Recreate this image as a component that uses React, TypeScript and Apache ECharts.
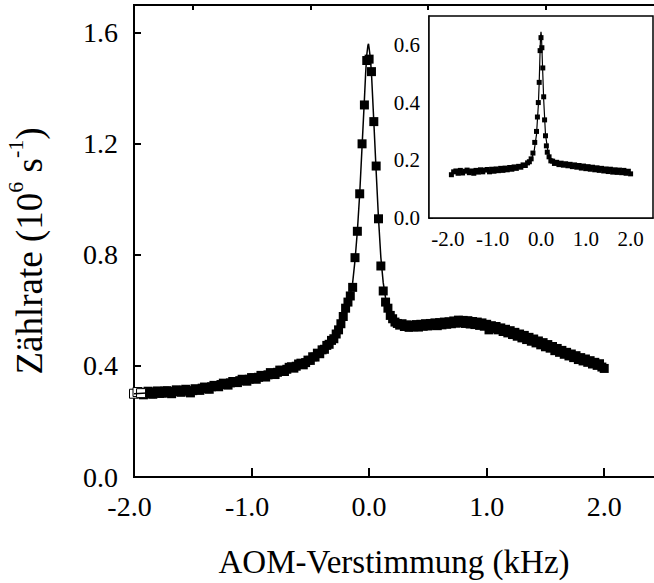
import React, { useEffect, useRef } from "react";
import * as echarts from "echarts";

const FONT = '"Liberation Serif", "Times New Roman", Times, serif';

// Main plot: measured count rate vs AOM detuning (filled squares)
const mainData: [number, number][] = [
  [-1.92, 0.296], [-1.90, 0.305], [-1.88, 0.309], [-1.86, 0.300], [-1.84, 0.298],
  [-1.82, 0.306], [-1.80, 0.310], [-1.78, 0.301], [-1.76, 0.302], [-1.74, 0.309],
  [-1.72, 0.311], [-1.70, 0.303], [-1.68, 0.300], [-1.66, 0.308], [-1.64, 0.314],
  [-1.62, 0.309], [-1.60, 0.305], [-1.58, 0.312], [-1.56, 0.316], [-1.54, 0.309],
  [-1.52, 0.303], [-1.50, 0.311], [-1.48, 0.318], [-1.46, 0.314], [-1.44, 0.312],
  [-1.42, 0.320], [-1.40, 0.324], [-1.38, 0.318], [-1.36, 0.316], [-1.34, 0.325],
  [-1.32, 0.330], [-1.30, 0.327], [-1.28, 0.325], [-1.26, 0.333], [-1.24, 0.338],
  [-1.22, 0.333], [-1.20, 0.331], [-1.18, 0.339], [-1.16, 0.344], [-1.14, 0.342],
  [-1.12, 0.340], [-1.10, 0.347], [-1.08, 0.352], [-1.06, 0.348], [-1.04, 0.345],
  [-1.02, 0.352], [-1.00, 0.358], [-0.98, 0.357], [-0.96, 0.352], [-0.94, 0.359],
  [-0.92, 0.366], [-0.90, 0.364], [-0.88, 0.360], [-0.86, 0.368], [-0.84, 0.376],
  [-0.82, 0.373], [-0.80, 0.369], [-0.78, 0.377], [-0.76, 0.385], [-0.74, 0.384],
  [-0.72, 0.380], [-0.70, 0.388], [-0.68, 0.395], [-0.66, 0.397], [-0.64, 0.392],
  [-0.62, 0.399], [-0.60, 0.407], [-0.58, 0.410], [-0.56, 0.404], [-0.54, 0.412],
  [-0.52, 0.421], [-0.50, 0.420], [-0.48, 0.433], [-0.46, 0.432], [-0.44, 0.446],
  [-0.42, 0.444], [-0.40, 0.458], [-0.38, 0.460], [-0.36, 0.474], [-0.34, 0.478],
  [-0.32, 0.492], [-0.30, 0.498], [-0.28, 0.515], [-0.26, 0.530], [-0.24, 0.552],
  [-0.22, 0.578], [-0.20, 0.608], [-0.18, 0.630], [-0.16, 0.652], [-0.14, 0.683],
  [-0.12, 0.790], [-0.10, 0.885], [-0.08, 1.020], [-0.06, 1.200], [-0.04, 1.340],
  [-0.02, 1.500], [0.00, 1.505], [0.02, 1.460], [0.04, 1.280], [0.06, 1.120],
  [0.08, 0.930], [0.10, 0.760], [0.12, 0.670], [0.14, 0.630], [0.16, 0.608],
  [0.18, 0.582], [0.20, 0.570], [0.22, 0.558], [0.24, 0.553], [0.26, 0.547],
  [0.28, 0.552], [0.30, 0.542], [0.32, 0.548], [0.34, 0.539], [0.36, 0.546],
  [0.38, 0.541], [0.40, 0.549], [0.42, 0.540], [0.44, 0.550], [0.46, 0.543],
  [0.48, 0.552], [0.50, 0.544], [0.52, 0.553], [0.54, 0.546], [0.56, 0.555],
  [0.58, 0.545], [0.60, 0.556], [0.62, 0.548], [0.64, 0.558], [0.66, 0.550],
  [0.68, 0.559], [0.70, 0.552], [0.72, 0.562], [0.74, 0.554], [0.76, 0.565],
  [0.78, 0.556], [0.80, 0.564], [0.82, 0.553], [0.84, 0.563], [0.86, 0.551],
  [0.88, 0.560], [0.90, 0.549], [0.92, 0.558], [0.94, 0.546], [0.96, 0.555],
  [0.98, 0.543], [1.00, 0.550], [1.02, 0.530], [1.04, 0.545], [1.06, 0.535],
  [1.08, 0.542], [1.10, 0.530], [1.12, 0.537], [1.14, 0.524], [1.16, 0.532],
  [1.18, 0.519], [1.20, 0.527], [1.22, 0.513], [1.24, 0.521], [1.26, 0.507],
  [1.28, 0.515], [1.30, 0.501], [1.32, 0.510], [1.34, 0.495], [1.36, 0.503],
  [1.38, 0.489], [1.40, 0.497], [1.42, 0.483], [1.44, 0.490], [1.46, 0.476],
  [1.48, 0.484], [1.50, 0.469], [1.52, 0.477], [1.54, 0.464], [1.56, 0.470],
  [1.58, 0.455], [1.60, 0.463], [1.62, 0.449], [1.64, 0.456], [1.66, 0.442],
  [1.68, 0.449], [1.70, 0.436], [1.72, 0.443], [1.74, 0.430], [1.76, 0.437],
  [1.78, 0.423], [1.80, 0.430], [1.82, 0.418], [1.84, 0.425], [1.86, 0.413],
  [1.88, 0.419], [1.90, 0.407], [1.92, 0.413], [1.94, 0.402], [1.96, 0.408],
  [1.98, 0.396], [2.00, 0.391],
];

// First points drawn as open squares
const mainOpen: [number, number][] = [
  [-2.00, 0.300], [-1.97, 0.306], [-1.94, 0.302],
];

// Fit curve of the main plot
const mainFit: [number, number][] = [
  [-2.0, 0.300], [-1.5, 0.312], [-1.0, 0.355], [-0.7, 0.388], [-0.5, 0.425],
  [-0.4, 0.455], [-0.3, 0.505], [-0.25, 0.540], [-0.20, 0.600], [-0.16, 0.655],
  [-0.14, 0.700], [-0.12, 0.780], [-0.10, 0.885], [-0.08, 1.020], [-0.06, 1.190],
  [-0.04, 1.360], [-0.03, 1.450], [-0.02, 1.520], [-0.01, 1.555], [-0.005, 1.560],
  [0.00, 1.545], [0.01, 1.510], [0.02, 1.455], [0.04, 1.280], [0.06, 1.100],
  [0.08, 0.930], [0.10, 0.790], [0.12, 0.700], [0.14, 0.645], [0.16, 0.610],
  [0.20, 0.575], [0.25, 0.555], [0.30, 0.548], [0.5, 0.546], [0.8, 0.558],
  [1.0, 0.545], [1.5, 0.474], [2.0, 0.393],
];

// Inset: measurement over the same detuning range
const insetData: [number, number][] = [
  [-2.00, 0.150], [-1.95, 0.160], [-1.90, 0.163], [-1.85, 0.155], [-1.80, 0.165],
  [-1.75, 0.156], [-1.70, 0.162], [-1.65, 0.166], [-1.60, 0.157], [-1.55, 0.163],
  [-1.50, 0.155], [-1.45, 0.165], [-1.40, 0.159], [-1.35, 0.167], [-1.30, 0.160],
  [-1.25, 0.166], [-1.20, 0.168], [-1.15, 0.160], [-1.10, 0.169], [-1.05, 0.162],
  [-1.00, 0.170], [-0.95, 0.164], [-0.90, 0.172], [-0.85, 0.165], [-0.80, 0.173],
  [-0.75, 0.167], [-0.70, 0.175], [-0.65, 0.169], [-0.60, 0.177], [-0.55, 0.172],
  [-0.50, 0.179], [-0.45, 0.176], [-0.40, 0.184], [-0.35, 0.182], [-0.30, 0.191],
  [-0.26, 0.195], [-0.22, 0.205], [-0.18, 0.225], [-0.14, 0.262], [-0.10, 0.300],
  [-0.08, 0.350], [-0.06, 0.400], [-0.04, 0.470], [-0.02, 0.580], [0.00, 0.625],
  [0.02, 0.590], [0.04, 0.520], [0.06, 0.420], [0.08, 0.340], [0.10, 0.285],
  [0.12, 0.250], [0.14, 0.228], [0.18, 0.212], [0.22, 0.198], [0.26, 0.197],
  [0.30, 0.189], [0.35, 0.193], [0.40, 0.185], [0.45, 0.190], [0.50, 0.183],
  [0.55, 0.188], [0.60, 0.181], [0.65, 0.186], [0.70, 0.178], [0.75, 0.184],
  [0.80, 0.176], [0.85, 0.182], [0.90, 0.173], [0.95, 0.180], [1.00, 0.171],
  [1.05, 0.178], [1.10, 0.169], [1.15, 0.176], [1.20, 0.167], [1.25, 0.174],
  [1.30, 0.165], [1.35, 0.172], [1.40, 0.163], [1.45, 0.170], [1.50, 0.161],
  [1.55, 0.169], [1.60, 0.159], [1.65, 0.167], [1.70, 0.158], [1.75, 0.166],
  [1.80, 0.157], [1.85, 0.165], [1.90, 0.155], [1.95, 0.162], [2.00, 0.153],
];

const insetFit: [number, number][] = [
  [-2.0, 0.155], [-1.0, 0.166], [-0.5, 0.176], [-0.3, 0.190], [-0.2, 0.210],
  [-0.15, 0.235], [-0.10, 0.290], [-0.06, 0.390], [-0.04, 0.470], [-0.02, 0.580],
  [-0.01, 0.630], [0.00, 0.645], [0.01, 0.630], [0.02, 0.590], [0.04, 0.500],
  [0.06, 0.410], [0.10, 0.290], [0.15, 0.235], [0.20, 0.210], [0.30, 0.195],
  [0.50, 0.188], [1.0, 0.176], [1.5, 0.165], [2.0, 0.156],
];

// Axis ticks / labels
const mainXMajor = [-2, -1, 0, 1, 2];
const mainXMinor = [-1.5, -0.5, 0.5, 1.5];
const mainYMajor = [0, 0.4, 0.8, 1.2, 1.6];
const mainYMinor = [0.2, 0.6, 1.0, 1.4];
const insetXTicks = [-2, -1.5, -1, -0.5, 0, 0.5, 1, 1.5, 2];
const insetXLabels = [-2, -1, 0, 1, 2];
const insetYTicks = [0, 0.1, 0.2, 0.3, 0.4, 0.5, 0.6];
const insetYLabels = [0, 0.2, 0.4, 0.6];

const xTitle = "AOM-Verstimmung (kHz)";

function negFmt(v: number) {
  const t = v.toFixed(1);
  return v < 0 ? `{n|${t}}` : t;
}

export default function App() {
  const ref = useRef<HTMLDivElement>(null);

  useEffect(() => {
    if (!ref.current) return;
    const chart = echarts.init(ref.current, undefined, { renderer: "svg" });
    const black = "#000";
    const mainLabelSize = 28;
    const insetLabelSize = 21;

    const option: any = {
      animation: false,
      backgroundColor: "#fff",
      textStyle: { fontFamily: FONT },
      grid: [
        {
          left: 134, top: 5, width: 529, height: 472,
          show: true, borderColor: black, borderWidth: 2, backgroundColor: "transparent",
          outerBoundsMode: "none",
        },
        {
          left: 429, top: 16, width: 224, height: 202,
          show: true, borderColor: black, borderWidth: 1.5, backgroundColor: "#fff",
          outerBoundsMode: "none", z: 5,
        },
      ],
      xAxis: [
        {
          type: "value", gridIndex: 0, min: -2, max: 2.5,
          axisLine: { show: true, onZero: false, lineStyle: { color: black, width: 2 } },
          axisTick: { show: true, inside: true, length: 9, lineStyle: { color: black, width: 2 }, customValues: mainXMajor },
          axisLabel: {
            customValues: mainXMajor, formatter: negFmt, margin: 15,
            fontSize: mainLabelSize, fontFamily: FONT, color: black,
            rich: { n: { fontSize: mainLabelSize, fontFamily: FONT, color: black, padding: [0, 9, 0, 0] } },
          },
          splitLine: { show: false },
        },
        {
          type: "value", gridIndex: 0, min: -2, max: 2.5,
          axisLine: { show: false, onZero: false },
          axisTick: { show: true, inside: true, length: 5, lineStyle: { color: black, width: 2 }, customValues: mainXMinor },
          axisLabel: { show: false },
          splitLine: { show: false },
        },
        {
          type: "value", gridIndex: 1, min: -2.5, max: 2.5,
          axisLine: { show: true, onZero: false, lineStyle: { color: black, width: 1.5 } },
          axisTick: { show: true, inside: true, length: 4, lineStyle: { color: black, width: 1.5 }, customValues: insetXTicks },
          axisLabel: {
            customValues: insetXLabels, formatter: negFmt, margin: 10,
            fontSize: insetLabelSize, fontFamily: FONT, color: black,
            rich: { n: { fontSize: insetLabelSize, fontFamily: FONT, color: black, padding: [0, 7, 0, 0] } },
          },
          splitLine: { show: false },
        },
      ],
      yAxis: [
        {
          type: "value", gridIndex: 0, min: 0, max: 1.7,
          axisLine: { show: true, onZero: false, lineStyle: { color: black, width: 2 } },
          axisTick: { show: true, inside: true, length: 7, lineStyle: { color: black, width: 2 }, customValues: mainYMajor },
          axisLabel: {
            customValues: mainYMajor, formatter: (v: number) => v.toFixed(1), margin: 16,
            fontSize: mainLabelSize, fontFamily: FONT, color: black,
          },
          splitLine: { show: false },
        },
        {
          type: "value", gridIndex: 0, min: 0, max: 1.7,
          axisLine: { show: false, onZero: false },
          axisTick: { show: true, inside: true, length: 4, lineStyle: { color: black, width: 2 }, customValues: mainYMinor },
          axisLabel: { show: false },
          splitLine: { show: false },
        },
        {
          type: "value", gridIndex: 1, min: 0, max: 0.7,
          axisLine: { show: true, onZero: false, lineStyle: { color: black, width: 1.5 } },
          axisTick: { show: true, inside: true, length: 4, lineStyle: { color: black, width: 1.5 }, customValues: insetYTicks },
          axisLabel: {
            customValues: insetYLabels, formatter: (v: number) => v.toFixed(1), margin: 9,
            fontSize: insetLabelSize, fontFamily: FONT, color: black,
          },
          splitLine: { show: false },
        },
      ],
      series: [
        {
          type: "scatter", xAxisIndex: 0, yAxisIndex: 0, data: mainData,
          symbol: "rect", symbolSize: 9, itemStyle: { color: black, opacity: 1 }, z: 2,
        },
        {
          type: "scatter", xAxisIndex: 0, yAxisIndex: 0, data: mainOpen,
          symbol: "rect", symbolSize: 9,
          itemStyle: { color: "#fff", borderColor: black, borderWidth: 1, opacity: 1 }, z: 3,
        },
        {
          type: "line", xAxisIndex: 0, yAxisIndex: 0, data: mainFit,
          showSymbol: false, symbol: "none", lineStyle: { color: black, width: 1.5 }, z: 4,
        },
        {
          type: "scatter", xAxisIndex: 2, yAxisIndex: 2, data: insetData,
          symbol: "rect", symbolSize: 5, itemStyle: { color: black, opacity: 1 }, z: 6,
        },
        {
          type: "line", xAxisIndex: 2, yAxisIndex: 2, data: insetFit,
          showSymbol: false, symbol: "none", lineStyle: { color: black, width: 1.2 }, z: 7,
        },
      ],
      graphic: [
        {
          type: "text", x: 26, y: 251, rotation: Math.PI / 2,
          style: {
            text: "{m|Zählrate (10}{s|6}{m| s}{s|-1}{m|)}",
            align: "center", verticalAlign: "middle", fill: black,
            rich: {
              m: { fontSize: 37, fontFamily: FONT, fill: black, lineHeight: 44, verticalAlign: "bottom" },
              s: { fontSize: 22, fontFamily: FONT, fill: black, lineHeight: 44, verticalAlign: "top" },
            },
          },
        },
        {
          type: "text", x: 394, y: 562,
          style: {
            text: xTitle, align: "center", verticalAlign: "middle", fill: black,
            fontSize: 33, fontFamily: FONT,
          },
        },
      ],
    };
    chart.setOption(option);
    return () => chart.dispose();
  }, []);

  return (
    <div
      ref={ref}
      style={{ position: "fixed", left: 0, top: 0, width: 654, height: 583, background: "#fff" }}
    />
  );
}
